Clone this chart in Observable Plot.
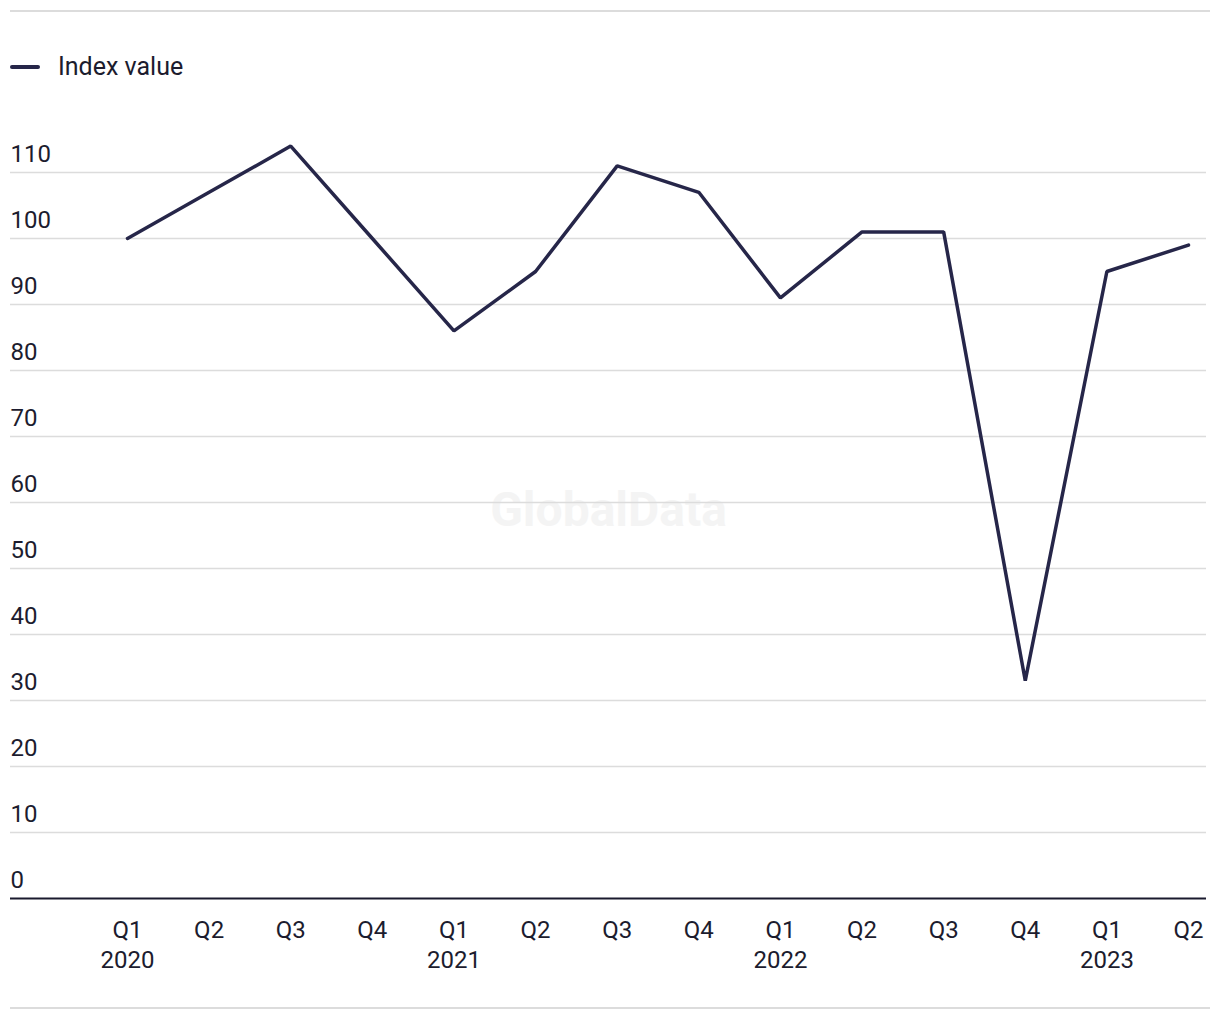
<!DOCTYPE html>
<html>
<head>
<meta charset="utf-8">
<script src="https://cdn.jsdelivr.net/npm/d3@7"></script>
<script src="https://cdn.jsdelivr.net/npm/@observablehq/plot@0.6"></script>
<style>
  html, body { margin: 0; padding: 0; background: #fff; }
  #wrap { position: relative; width: 1220px; height: 1020px; font-family: Roboto, "Liberation Sans", sans-serif; color: #1c1c2e; }
  .rule { position: absolute; left: 10px; width: 1200px; height: 2px; background: #dcdcdc; }
  #legend { position: absolute; left: 10px; top: 52px; display: flex; align-items: center; font-size: 25px; line-height: 30px; color: #1c1c2e; }
  #legend .sw { width: 30px; height: 4px; background: #262649; border-radius: 2px; margin-right: 18px; }
  #chart { position: absolute; left: 0; top: 100px; }
</style>
</head>
<body>
<div id="wrap">
  <div class="rule" style="top:10px"></div>
  <div id="legend"><span class="sw"></span><span>Index value</span></div>
  <div id="chart"></div>
  <div class="rule" style="top:1007px"></div>
</div>
<script>
const quarters = ["Q1 2020","Q2 2020","Q3 2020","Q4 2020","Q1 2021","Q2 2021","Q3 2021","Q4 2021","Q1 2022","Q2 2022","Q3 2022","Q4 2022","Q1 2023","Q2 2023"];
const tickLabels = ["Q1\n2020","Q2","Q3","Q4","Q1\n2021","Q2","Q3","Q4","Q1\n2022","Q2","Q3","Q4","Q1\n2023","Q2"];
const indexValues = [100, 107, 114, 100, 86, 95, 111, 107, 91, 101, 101, 33, 95, 99];
const yTicks = [0, 10, 20, 30, 40, 50, 60, 70, 80, 90, 100, 110];
const seriesName = "Index value";

const data = quarters.map((q, i) => ({quarter: q, value: indexValues[i], label: tickLabels[i]}));

const plot = Plot.plot({
  width: 1220,
  height: 900,
  marginTop: 72,
  marginBottom: 102,
  marginLeft: 10,
  marginRight: 14,
  style: {fontFamily: "Roboto, 'Liberation Sans', sans-serif", background: "transparent", color: "#1c1c2e"},
  x: {type: "point", domain: quarters, range: [127, 1188], padding: 0, round: false, axis: null},
  y: {domain: [0, 110], axis: null},
  marks: [
    Plot.text(["GlobalData"], {frameAnchor: "middle", dy: -25, fontSize: 48, fontWeight: "bold", fill: "#f4f4f4"}),
    Plot.ruleY(yTicks.filter(d => d > 0), {stroke: "#dcdcdc", strokeWidth: 1.5}),
    Plot.text(yTicks, {y: d => d, text: d => String(d), frameAnchor: "left", textAnchor: "start", dy: -18, fontSize: 24, fill: "#1c1c2e"}),
    Plot.ruleY([0], {stroke: "#1a1a2e", strokeWidth: 2}),
    Plot.text(data, {x: "quarter", text: "label", frameAnchor: "bottom", lineAnchor: "top", dy: 18, lineHeight: 1.25, fontSize: 24, fill: "#1c1c2e"}),
    Plot.line(data, {x: "quarter", y: "value", stroke: "#262649", strokeWidth: 3.5, strokeLinejoin: "miter"})
  ]
});
document.getElementById("chart").appendChild(plot);
</script>
</body>
</html>
